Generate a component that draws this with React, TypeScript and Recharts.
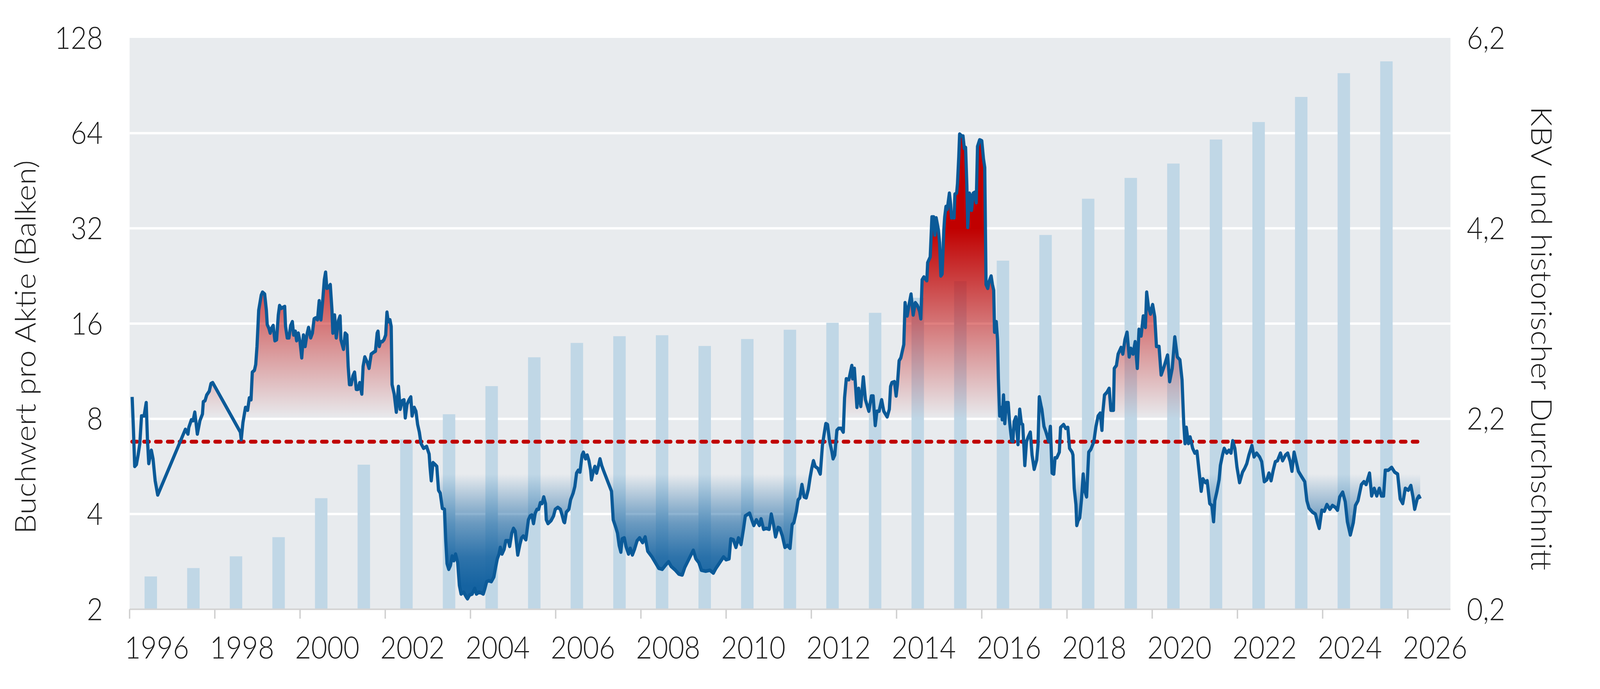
import React from "react";
import {
  ComposedChart,
  Bar,
  Line,
  Area,
  XAxis,
  YAxis,
  CartesianGrid,
} from "recharts";

// Buchwert pro Aktie, one bar per year (centred mid-year)
const barYears = [
  1996.5, 1997.5, 1998.5, 1999.5, 2000.5, 2001.5, 2002.5, 2003.5, 2004.5, 2005.5,
  2006.5, 2007.5, 2008.5, 2009.5, 2010.5, 2011.5, 2012.5, 2013.5, 2014.5, 2015.5,
  2016.5, 2017.5, 2018.5, 2019.5, 2020.5, 2021.5, 2022.5, 2023.5, 2024.5, 2025.5,
];
const bookValue = [
  2.54, 2.7, 2.94, 3.38, 4.49, 5.73, 6.89, 8.27, 10.15, 12.52,
  13.9, 14.6, 14.7, 13.6, 14.3, 15.3, 16.1, 17.3, 19.3, 21.8,
  25.3, 30.5, 39.7, 46.2, 51.3, 61.1, 69.4, 83.3, 99.0, 107.9,
];

// KBV [Jahr, Wert]
const kbvSeries: [number, number][] = [
  [1996.06, 2.43], [1996.09, 2.09], [1996.12, 1.7], [1996.16, 1.72], [1996.2, 1.82],
  [1996.24, 1.94], [1996.28, 2.23], [1996.34, 2.23], [1996.39, 2.37], [1996.42, 1.97],
  [1996.45, 1.73], [1996.51, 1.87], [1996.55, 1.78], [1996.6, 1.55], [1996.66, 1.4],
  [1997.31, 2.09], [1997.37, 2.04], [1997.39, 2.11], [1997.45, 2.19], [1997.49, 2.18],
  [1997.53, 2.27], [1997.59, 2.04], [1997.65, 2.18], [1997.71, 2.25], [1997.73, 2.38],
  [1997.77, 2.39], [1997.81, 2.45], [1997.87, 2.49], [1997.91, 2.57], [1997.95, 2.58],
  [1998.6, 2.06], [1998.62, 1.98], [1998.66, 2.16], [1998.72, 2.32], [1998.77, 2.29],
  [1998.81, 2.42], [1998.85, 2.4], [1998.88, 2.69], [1998.93, 2.71], [1998.96, 2.77],
  [1998.99, 2.96], [1999.03, 3.34], [1999.09, 3.5], [1999.12, 3.53], [1999.17, 3.51],
  [1999.21, 3.34], [1999.23, 3.19], [1999.27, 3.15], [1999.3, 3.1], [1999.33, 3.15],
  [1999.37, 3.18], [1999.41, 3.02], [1999.45, 3.03], [1999.49, 3.29], [1999.52, 3.39],
  [1999.56, 3.36], [1999.6, 3.37], [1999.64, 3.38], [1999.66, 3.17], [1999.7, 3.05],
  [1999.74, 3.05], [1999.78, 3.18], [1999.82, 3.22], [1999.85, 3.08], [1999.89, 3.12],
  [1999.92, 3.02], [1999.96, 3.1], [2000.0, 3.01], [2000.04, 2.84], [2000.08, 3.08],
  [2000.12, 2.96], [2000.16, 3.08], [2000.2, 3.16], [2000.25, 3.05], [2000.29, 3.1],
  [2000.33, 3.25], [2000.37, 3.26], [2000.41, 3.24], [2000.45, 3.44], [2000.49, 3.24],
  [2000.53, 3.43], [2000.57, 3.66], [2000.6, 3.74], [2000.63, 3.57], [2000.67, 3.58],
  [2000.71, 3.61], [2000.75, 3.34], [2000.77, 3.1], [2000.81, 3.29], [2000.85, 3.05],
  [2000.9, 3.23], [2000.94, 3.28], [2000.96, 3.03], [2001.02, 2.93], [2001.06, 3.1],
  [2001.1, 3.08], [2001.13, 2.75], [2001.16, 2.56], [2001.2, 2.56], [2001.24, 2.65],
  [2001.28, 2.69], [2001.32, 2.51], [2001.36, 2.51], [2001.4, 2.58], [2001.45, 2.46],
  [2001.48, 2.75], [2001.52, 2.85], [2001.58, 2.79], [2001.62, 2.73], [2001.67, 2.88],
  [2001.73, 2.9], [2001.77, 2.91], [2001.81, 3.1], [2001.83, 3.12], [2001.86, 2.96],
  [2001.89, 3.01], [2001.93, 3.01], [2001.97, 3.03], [2002.01, 3.08], [2002.04, 3.32],
  [2002.07, 3.22], [2002.11, 3.24], [2002.14, 3.17], [2002.16, 2.56], [2002.21, 2.46],
  [2002.26, 2.27], [2002.31, 2.54], [2002.35, 2.3], [2002.4, 2.39], [2002.44, 2.4],
  [2002.47, 2.21], [2002.51, 2.35], [2002.56, 2.4], [2002.6, 2.43], [2002.63, 2.23],
  [2002.68, 2.32], [2002.72, 2.28], [2002.76, 2.14], [2002.8, 2.06], [2002.84, 1.94],
  [2002.9, 1.89], [2002.97, 1.91], [2003.03, 1.83], [2003.05, 1.7], [2003.08, 1.55],
  [2003.12, 1.74], [2003.17, 1.72], [2003.21, 1.7], [2003.25, 1.45], [2003.29, 1.42],
  [2003.34, 1.26], [2003.39, 1.25], [2003.42, 0.92], [2003.45, 0.68], [2003.49, 0.62],
  [2003.53, 0.66], [2003.57, 0.76], [2003.61, 0.71], [2003.65, 0.78], [2003.7, 0.69],
  [2003.74, 0.45], [2003.78, 0.36], [2003.84, 0.38], [2003.9, 0.33], [2003.93, 0.31],
  [2003.98, 0.35], [2004.04, 0.36], [2004.1, 0.42], [2004.14, 0.36], [2004.2, 0.38],
  [2004.26, 0.37], [2004.3, 0.36], [2004.34, 0.42], [2004.38, 0.49], [2004.43, 0.5],
  [2004.49, 0.49], [2004.55, 0.54], [2004.59, 0.64], [2004.63, 0.73], [2004.67, 0.78],
  [2004.7, 0.85], [2004.74, 0.78], [2004.79, 0.83], [2004.83, 0.92], [2004.89, 0.92],
  [2004.92, 0.86], [2004.97, 1.0], [2005.01, 1.05], [2005.05, 1.02], [2005.11, 0.77],
  [2005.16, 0.88], [2005.2, 0.95], [2005.24, 0.97], [2005.3, 0.93], [2005.36, 1.14],
  [2005.4, 1.18], [2005.44, 1.19], [2005.48, 1.1], [2005.52, 1.21], [2005.56, 1.25],
  [2005.6, 1.25], [2005.64, 1.32], [2005.68, 1.31], [2005.72, 1.38], [2005.76, 1.31],
  [2005.78, 1.14], [2005.82, 1.1], [2005.89, 1.13], [2005.95, 1.18], [2005.99, 1.25],
  [2006.05, 1.27], [2006.11, 1.25], [2006.15, 1.19], [2006.19, 1.12], [2006.21, 1.11],
  [2006.25, 1.22], [2006.31, 1.25], [2006.35, 1.35], [2006.41, 1.42], [2006.45, 1.49],
  [2006.49, 1.63], [2006.53, 1.66], [2006.57, 1.64], [2006.62, 1.82], [2006.65, 1.85],
  [2006.7, 1.78], [2006.74, 1.82], [2006.78, 1.76], [2006.82, 1.66], [2006.84, 1.56],
  [2006.88, 1.64], [2006.92, 1.7], [2006.96, 1.63], [2007.0, 1.7], [2007.04, 1.78],
  [2007.08, 1.71], [2007.12, 1.66], [2007.18, 1.59], [2007.24, 1.52], [2007.31, 1.44],
  [2007.35, 1.14], [2007.41, 1.06], [2007.45, 1.0], [2007.49, 0.87], [2007.53, 0.8],
  [2007.56, 0.94], [2007.61, 0.95], [2007.65, 0.86], [2007.71, 0.78], [2007.75, 0.84],
  [2007.8, 0.77], [2007.85, 0.83], [2007.91, 0.92], [2007.97, 0.95], [2008.04, 0.9],
  [2008.1, 0.96], [2008.16, 0.81], [2008.21, 0.78], [2008.26, 0.75], [2008.34, 0.69],
  [2008.42, 0.63], [2008.5, 0.62], [2008.59, 0.67], [2008.65, 0.7], [2008.71, 0.65],
  [2008.81, 0.61], [2008.89, 0.57], [2008.97, 0.56], [2009.03, 0.64], [2009.13, 0.73],
  [2009.23, 0.82], [2009.29, 0.73], [2009.36, 0.69], [2009.42, 0.61], [2009.52, 0.6],
  [2009.62, 0.61], [2009.7, 0.58], [2009.76, 0.63], [2009.88, 0.71], [2009.94, 0.75],
  [2010.0, 0.72], [2010.07, 0.73], [2010.11, 0.94], [2010.17, 0.93], [2010.23, 0.85],
  [2010.29, 0.95], [2010.35, 0.88], [2010.41, 1.05], [2010.45, 1.18], [2010.55, 1.21],
  [2010.61, 1.13], [2010.65, 1.08], [2010.71, 1.14], [2010.78, 1.08], [2010.82, 1.15],
  [2010.88, 1.04], [2010.94, 1.05], [2011.01, 1.04], [2011.06, 1.2], [2011.12, 1.07],
  [2011.16, 0.96], [2011.22, 1.06], [2011.26, 1.05], [2011.32, 0.97], [2011.38, 0.85],
  [2011.44, 0.87], [2011.5, 0.84], [2011.55, 1.09], [2011.59, 1.11], [2011.65, 1.23],
  [2011.69, 1.35], [2011.73, 1.37], [2011.78, 1.51], [2011.83, 1.38], [2011.88, 1.37],
  [2011.93, 1.46], [2011.97, 1.58], [2012.01, 1.68], [2012.05, 1.76], [2012.09, 1.7],
  [2012.15, 1.68], [2012.21, 1.62], [2012.26, 1.92], [2012.3, 2.04], [2012.34, 2.15],
  [2012.38, 2.14], [2012.43, 1.96], [2012.48, 1.86], [2012.51, 1.78], [2012.55, 1.82],
  [2012.6, 2.08], [2012.64, 2.1], [2012.7, 2.1], [2012.75, 2.06], [2012.78, 2.42],
  [2012.82, 2.62], [2012.88, 2.61], [2012.95, 2.76], [2012.97, 2.62], [2013.01, 2.73],
  [2013.07, 2.32], [2013.11, 2.52], [2013.16, 2.33], [2013.22, 2.64], [2013.27, 2.4],
  [2013.35, 2.28], [2013.41, 2.44], [2013.45, 2.44], [2013.5, 2.13], [2013.54, 2.28],
  [2013.59, 2.28], [2013.65, 2.4], [2013.7, 2.28], [2013.78, 2.22], [2013.83, 2.3],
  [2013.86, 2.54], [2013.89, 2.58], [2013.95, 2.59], [2013.99, 2.44], [2014.02, 2.56],
  [2014.06, 2.81], [2014.1, 2.84], [2014.14, 2.92], [2014.17, 2.98], [2014.2, 3.42],
  [2014.25, 3.28], [2014.29, 3.39], [2014.34, 3.51], [2014.39, 3.29], [2014.44, 3.42],
  [2014.49, 3.39], [2014.54, 3.33], [2014.57, 3.25], [2014.6, 3.66], [2014.64, 3.69],
  [2014.71, 3.65], [2014.73, 3.84], [2014.79, 3.9], [2014.83, 4.32], [2014.87, 4.32],
  [2014.9, 4.13], [2014.93, 4.31], [2014.98, 4.19], [2015.01, 4.05], [2015.04, 3.7],
  [2015.07, 3.72], [2015.11, 4.19], [2015.13, 4.32], [2015.16, 4.43], [2015.19, 4.4],
  [2015.24, 4.57], [2015.27, 4.45], [2015.29, 4.31], [2015.32, 4.32], [2015.35, 4.31],
  [2015.37, 4.56], [2015.41, 4.57], [2015.43, 4.67], [2015.46, 4.95], [2015.48, 5.19],
  [2015.53, 5.17], [2015.56, 5.17], [2015.59, 5.04], [2015.62, 5.05], [2015.65, 4.65],
  [2015.67, 4.21], [2015.71, 4.57], [2015.74, 4.54], [2015.76, 4.39], [2015.8, 4.57],
  [2015.84, 4.58], [2015.87, 4.47], [2015.9, 5.06], [2015.95, 5.13], [2016.0, 5.12],
  [2016.04, 4.93], [2016.07, 4.84], [2016.1, 3.61], [2016.14, 3.57], [2016.17, 3.64],
  [2016.22, 3.7], [2016.25, 3.61], [2016.28, 3.55], [2016.3, 3.11], [2016.34, 3.22],
  [2016.37, 3.03], [2016.39, 2.62], [2016.42, 2.23], [2016.46, 2.32], [2016.48, 2.19],
  [2016.51, 2.45], [2016.54, 2.15], [2016.58, 2.37], [2016.62, 2.37], [2016.65, 2.18],
  [2016.7, 1.97], [2016.73, 1.96], [2016.76, 2.17], [2016.8, 2.22], [2016.85, 1.93],
  [2016.89, 2.3], [2016.93, 2.15], [2016.96, 2.14], [2016.99, 1.9], [2017.01, 1.71],
  [2017.05, 1.96], [2017.09, 2.01], [2017.14, 2.06], [2017.18, 1.82], [2017.23, 1.67],
  [2017.29, 1.77], [2017.32, 1.93], [2017.35, 2.43], [2017.39, 2.34], [2017.41, 2.3],
  [2017.46, 2.12], [2017.5, 2.07], [2017.54, 2.01], [2017.57, 1.96], [2017.61, 2.12],
  [2017.65, 1.63], [2017.69, 1.62], [2017.72, 1.79], [2017.76, 1.79], [2017.82, 1.85],
  [2017.85, 2.11], [2017.92, 2.14], [2017.97, 2.1], [2018.02, 2.11], [2018.06, 1.89],
  [2018.12, 1.85], [2018.14, 1.82], [2018.17, 1.47], [2018.21, 1.3], [2018.23, 1.08],
  [2018.26, 1.13], [2018.3, 1.16], [2018.34, 1.35], [2018.38, 1.62], [2018.42, 1.44],
  [2018.46, 1.38], [2018.51, 1.85], [2018.56, 1.88], [2018.63, 1.96], [2018.68, 2.12],
  [2018.73, 2.23], [2018.78, 2.26], [2018.82, 2.08], [2018.84, 2.26], [2018.88, 2.45],
  [2018.94, 2.48], [2018.99, 2.52], [2019.03, 2.29], [2019.09, 2.29], [2019.11, 2.73],
  [2019.16, 2.76], [2019.2, 2.88], [2019.27, 2.95], [2019.31, 2.88], [2019.36, 3.03],
  [2019.41, 3.11], [2019.46, 2.85], [2019.5, 2.94], [2019.55, 2.88], [2019.6, 3.01],
  [2019.65, 2.73], [2019.69, 3.14], [2019.74, 3.07], [2019.79, 3.28], [2019.84, 3.16],
  [2019.87, 3.53], [2019.91, 3.38], [2019.96, 3.3], [2020.01, 3.4], [2020.06, 3.27],
  [2020.1, 2.96], [2020.16, 2.96], [2020.21, 2.66], [2020.28, 2.75], [2020.36, 2.87],
  [2020.41, 2.59], [2020.47, 2.73], [2020.53, 3.06], [2020.59, 2.85], [2020.65, 2.82],
  [2020.7, 2.61], [2020.74, 2.15], [2020.77, 1.94], [2020.8, 2.11], [2020.85, 1.94],
  [2020.89, 2.01], [2020.95, 1.89], [2021.0, 1.84], [2021.05, 1.86], [2021.1, 1.65],
  [2021.15, 1.44], [2021.19, 1.57], [2021.25, 1.53], [2021.29, 1.55], [2021.35, 1.31],
  [2021.4, 1.29], [2021.44, 1.12], [2021.47, 1.34], [2021.52, 1.44], [2021.57, 1.56],
  [2021.6, 1.71], [2021.65, 1.82], [2021.69, 1.89], [2021.75, 1.84], [2021.8, 1.87],
  [2021.85, 1.84], [2021.89, 1.97], [2021.94, 1.89], [2021.99, 1.69], [2022.05, 1.53],
  [2022.12, 1.64], [2022.17, 1.68], [2022.22, 1.73], [2022.27, 1.82], [2022.34, 1.92],
  [2022.39, 1.8], [2022.45, 1.84], [2022.52, 1.8], [2022.57, 1.75], [2022.63, 1.54],
  [2022.69, 1.56], [2022.74, 1.63], [2022.79, 1.55], [2022.84, 1.66], [2022.89, 1.75],
  [2022.94, 1.76], [2023.01, 1.84], [2023.06, 1.76], [2023.13, 1.82], [2023.18, 1.84],
  [2023.24, 1.75], [2023.28, 1.65], [2023.33, 1.85], [2023.38, 1.75], [2023.43, 1.65],
  [2023.51, 1.59], [2023.58, 1.54], [2023.63, 1.34], [2023.68, 1.26], [2023.76, 1.22],
  [2023.83, 1.2], [2023.88, 1.11], [2023.92, 1.05], [2023.98, 1.24], [2024.04, 1.23],
  [2024.1, 1.3], [2024.17, 1.25], [2024.23, 1.29], [2024.3, 1.27], [2024.35, 1.24],
  [2024.4, 1.38], [2024.47, 1.43], [2024.53, 1.33], [2024.58, 1.12], [2024.65, 0.98],
  [2024.72, 1.11], [2024.77, 1.29], [2024.83, 1.34], [2024.91, 1.51], [2024.97, 1.54],
  [2025.02, 1.51], [2025.1, 1.63], [2025.15, 1.39], [2025.21, 1.47], [2025.27, 1.39],
  [2025.33, 1.47], [2025.38, 1.39], [2025.43, 1.39], [2025.47, 1.66], [2025.54, 1.66],
  [2025.62, 1.69], [2025.69, 1.64], [2025.76, 1.62], [2025.82, 1.36], [2025.88, 1.31],
  [2025.94, 1.47], [2026.01, 1.45], [2026.07, 1.5], [2026.12, 1.38], [2026.16, 1.25],
  [2026.22, 1.36], [2026.26, 1.39], [2026.29, 1.36],
];

const historicalAverage = 1.96;

const yearTicks = [1996, 1998, 2000, 2002, 2004, 2006, 2008, 2010, 2012, 2014, 2016, 2018, 2020, 2022, 2024, 2026];
const bookTicks = [2, 4, 8, 16, 32, 64, 128];
const kbvTicks = [0.2, 2.2, 4.2, 6.2];
const gridValues = [4, 8, 16, 32, 64];

const barData = barYears.map((year, i) => ({ year, bv: bookValue[i] }));
const kbvData = kbvSeries.map(([year, kbv]) => ({ year, kbv, avg: historicalAverage }));

const W = 4494;
const H = 1763;
const PLOT_TOP = 97;
const PLOT_BOTTOM = 1559;
const LEFT_W = 364;
const RIGHT_W = 420;
const KBV_MIN = 0.2;
const KBV_MAX = 6.2;

const FONT = "Lato, 'Open Sans', 'DejaVu Sans', sans-serif";
const TEXT = "#1e1e1e";
const tickStyle = { fontFamily: FONT, fontWeight: 300, fontSize: 78, fill: TEXT };

// stop offset (0..1 over the svg height) for a KBV level
const stopAt = (k: number) =>
  (PLOT_TOP + ((KBV_MAX - k) / (KBV_MAX - KBV_MIN)) * (PLOT_BOTTOM - PLOT_TOP)) / H;

const YearTick = (props: any) => {
  const { x, y, payload } = props;
  return (
    <text x={x - 14} y={y} dy="0.71em" textAnchor="start" {...tickStyle}>
      {payload.value}
    </text>
  );
};

const LeftTitle = (props: any) => {
  const vb = props.viewBox || { x: 0, y: PLOT_TOP, width: LEFT_W, height: PLOT_BOTTOM - PLOT_TOP };
  const cx = vb.x + 68;
  const cy = vb.y + vb.height / 2 + 60;
  return (
    <text
      x={cx}
      y={cy}
      transform={`rotate(-90 ${cx} ${cy})`}
      textAnchor="middle"
      dominantBaseline="central"
      fontFamily={FONT}
      fontWeight={300}
      fontSize={80}
      fill={TEXT}
    >
      Buchwert pro Aktie (Balken)
    </text>
  );
};

const RightTitle = (props: any) => {
  const vb = props.viewBox || { x: W - RIGHT_W, y: PLOT_TOP, width: RIGHT_W, height: PLOT_BOTTOM - PLOT_TOP };
  const cx = vb.x + 258;
  const cy = vb.y + vb.height / 2 + 38;
  return (
    <text
      x={cx}
      y={cy}
      transform={`rotate(90 ${cx} ${cy})`}
      textAnchor="middle"
      dominantBaseline="central"
      fontFamily={FONT}
      fontWeight={300}
      fontSize={80}
      fill={TEXT}
    >
      KBV und historischer Durchschnitt
    </text>
  );
};

const fmtKbv = (v: number) => v.toFixed(1).replace(".", ",");

export default function App() {
  // the browser window can come out smaller than 4494x1763, so stretch the drawing to fill it
  const hasWin = typeof window !== "undefined";
  const vw = hasWin && window.innerWidth ? window.innerWidth : W;
  const vh = hasWin && window.innerHeight ? window.innerHeight : H;
  const sx = vw / W;
  const sy = vh / H;

  return (
    <div style={{ position: "absolute", left: 0, top: 0, width: vw, height: vh, overflow: "hidden", background: "#fff" }}>
      <div style={{ position: "absolute", left: 0, top: 0, width: W, height: H, transform: `scale(${sx}, ${sy})`, transformOrigin: "0 0" }}>
        {/* unten: Hintergrund, Gitter, Balken */}
        <div style={{ position: "absolute", left: 0, top: 0 }}>
          <ComposedChart
            width={W}
            height={H}
            data={barData}
            margin={{ top: PLOT_TOP, right: RIGHT_W, bottom: H - PLOT_BOTTOM, left: 0 }}
          >
            <CartesianGrid
              yAxisId="bv"
              vertical={false}
              horizontalValues={gridValues}
              fill="#e8ebee"
              fillOpacity={1}
              stroke="#ffffff"
              strokeWidth={6}
            />
            <XAxis dataKey="year" type="number" domain={[1996, 2027]} allowDataOverflow hide />
            <YAxis
              yAxisId="bv"
              type="number"
              scale="log"
              domain={[2, 128]}
              allowDataOverflow
              ticks={bookTicks}
              interval={0}
              width={LEFT_W}
              axisLine={false}
              tickLine={false}
              tickSize={0}
              tickMargin={75}
              tick={tickStyle}
              label={LeftTitle}
            />
            <Bar
              yAxisId="bv"
              dataKey="bv"
              fill="#c0d7e6"
              barSize={35}
              isAnimationActive={false}
            />
          </ComposedChart>
        </div>

        {/* oben: KBV-Flächen, Durchschnitt, KBV-Linie, Achsen */}
        <div style={{ position: "absolute", left: 0, top: 0 }}>
          <ComposedChart
            width={W}
            height={H}
            data={kbvData}
            margin={{ top: PLOT_TOP, right: 0, bottom: 0, left: LEFT_W }}
          >
            <defs>
              <linearGradient id="kbvFill" gradientUnits="userSpaceOnUse" x1="0" y1="0" x2="0" y2={H}>
                <stop offset={stopAt(4.2)} stopColor="#c00000" stopOpacity={1} />
                <stop offset={stopAt(2.2)} stopColor="#c00000" stopOpacity={0} />
                <stop offset={stopAt(1.62)} stopColor="#1563a1" stopOpacity={0} />
                <stop offset={stopAt(1.32)} stopColor="#1563a1" stopOpacity={0.35} />
                <stop offset={stopAt(1.1)} stopColor="#1563a1" stopOpacity={0.6} />
                <stop offset={stopAt(0.75)} stopColor="#1563a1" stopOpacity={0.88} />
                <stop offset={stopAt(0.45)} stopColor="#1563a1" stopOpacity={1} />
              </linearGradient>
            </defs>
            <XAxis
              dataKey="year"
              type="number"
              domain={[1996, 2027]}
              allowDataOverflow
              ticks={yearTicks}
              interval={0}
              height={H - PLOT_BOTTOM}
              axisLine={{ stroke: "#d4d4d4", strokeWidth: 4 }}
              tickLine={{ stroke: "#d0d0d0", strokeWidth: 4 }}
              tickSize={24}
              tickMargin={47}
              tick={<YearTick />}
            />
            <YAxis
              yAxisId="kbv"
              orientation="right"
              type="number"
              domain={[KBV_MIN, KBV_MAX]}
              allowDataOverflow
              ticks={kbvTicks}
              interval={0}
              width={RIGHT_W}
              axisLine={false}
              tickLine={false}
              tickSize={0}
              tickMargin={46}
              tick={tickStyle}
              tickFormatter={fmtKbv}
              label={RightTitle}
            />
            <Area
              yAxisId="kbv"
              type="linear"
              dataKey="kbv"
              baseValue={historicalAverage}
              stroke="none"
              fill="url(#kbvFill)"
              fillOpacity={1}
              isAnimationActive={false}
            />
            <Line
              yAxisId="kbv"
              type="linear"
              dataKey="avg"
              stroke="#c00000"
              strokeWidth={10}
              strokeDasharray="14 19.3"
              strokeLinecap="round"
              dot={false}
              activeDot={false}
              isAnimationActive={false}
            />
            <Line
              yAxisId="kbv"
              type="linear"
              dataKey="kbv"
              stroke="#0b5a98"
              strokeWidth={9}
              strokeLinejoin="round"
              dot={false}
              activeDot={false}
              isAnimationActive={false}
            />
          </ComposedChart>
        </div>
      </div>
    </div>
  );
}
